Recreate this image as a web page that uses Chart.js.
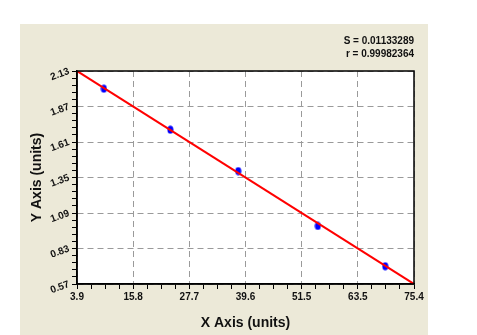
<!DOCTYPE html>
<html>
<head>
<meta charset="utf-8">
<script src="https://cdn.jsdelivr.net/npm/chart.js@4/dist/chart.umd.min.js"></script>
<style>
html,body{margin:0;padding:0;background:#fff;}
canvas{display:block;}
</style>
</head>
<body>
<canvas id="c" width="477" height="335"></canvas>
<script>
// ---- data ----
const pointX = [9.6, 23.7, 38.1, 55.0, 69.3];
const pointY = [2.00, 1.70, 1.397, 0.995, 0.70];
const fitX = [3.9, 75.4];
const fitY = [2.13, 0.57];
const xTickLabels = ['3.9', '15.8', '27.7', '39.6', '51.5', '63.5', '75.4'];
const yTickLabels = ['0.57', '0.83', '1.09', '1.35', '1.61', '1.87', '2.13'];
const statsText = ['S = 0.01133289', 'r = 0.99982364'];
const xTitle = 'X Axis (units)';
const yTitle = 'Y Axis (units)';

const X_MIN = parseFloat(xTickLabels[0]), X_MAX = parseFloat(xTickLabels[xTickLabels.length - 1]);
const Y_MIN = parseFloat(yTickLabels[0]), Y_MAX = parseFloat(yTickLabels[yTickLabels.length - 1]);
const X_MINOR = 4, Y_MINOR = 5;

// ellipse point style
const dot = document.createElement('canvas');
dot.width = 7; dot.height = 9;
(function () {
  const g = dot.getContext('2d');
  g.fillStyle = '#0000ff';
  g.beginPath();
  g.ellipse(3.5, 4.5, 3, 4, 0, 0, Math.PI * 2);
  g.fill();
})();

const bgPlugin = {
  id: 'bg',
  beforeDraw(chart) {
    const ctx = chart.ctx, a = chart.chartArea;
    ctx.save();
    ctx.fillStyle = '#ffffff';
    ctx.fillRect(0, 0, chart.width, chart.height);
    ctx.fillStyle = '#ECE9D8';
    ctx.fillRect(20, 24, 408, chart.height - 24);
    ctx.fillStyle = '#ffffff';
    ctx.fillRect(a.left, a.top, a.right - a.left, a.bottom - a.top);
    ctx.restore();
  },
  afterDraw(chart) {
    const ctx = chart.ctx, a = chart.chartArea;
    ctx.save();
    ctx.setLineDash([]);
    ctx.strokeStyle = '#000';
    ctx.lineWidth = 1.5;
    ctx.strokeRect(a.left, a.top, a.right - a.left, a.bottom - a.top);
    ctx.restore();
  }
};

function makeTicks(min, max, nMajor, nMinor) {
  const n = (nMajor - 1) * nMinor;
  const out = [];
  for (let i = 0; i <= n; i++) out.push({ value: min + (max - min) * i / n });
  return out;
}

const gridOpts = (minor) => ({
  color: (c) => (c.index % minor === 0 ? '#9a9a9a' : 'rgba(0,0,0,0)'),
  borderDash: [6, 4],
  tickBorderDash: [],
  tickColor: '#000',
  tickLength: 5,
  lineWidth: 1
});

new Chart(document.getElementById('c'), {
  type: 'scatter',
  data: {
    datasets: [
      {
        type: 'line',
        data: fitX.map((x, i) => ({ x, y: fitY[i] })),
        borderColor: '#ff0000',
        borderWidth: 2,
        pointRadius: 0,
        fill: false,
        order: 0
      },
      {
        data: pointX.map((x, i) => ({ x, y: pointY[i] })),
        pointStyle: dot,
        backgroundColor: '#0000ff',
        order: 1
      }
    ]
  },
  options: {
    responsive: false,
    animation: false,
    layout: { padding: { left: 20, right: 63, top: 30, bottom: 0 } },
    plugins: {
      legend: { display: false },
      tooltip: { enabled: false },
      title: {
        display: true,
        text: statsText,
        align: 'end',
        color: '#111',
        font: { family: 'Liberation Sans, Arial, sans-serif', size: 10, weight: 'bold', lineHeight: 1.25 },
        padding: { top: 5, bottom: 11 }
      }
    },
    scales: {
      x: {
        type: 'linear',
        min: X_MIN, max: X_MAX,
        afterBuildTicks: (s) => { s.ticks = makeTicks(X_MIN, X_MAX, xTickLabels.length, X_MINOR); },
        afterFit: (s) => { s.height = 51; },
        ticks: {
          autoSkip: false, maxRotation: 0, minRotation: 0,
          padding: 2,
          color: '#111',
          font: { family: 'Liberation Sans, Arial, sans-serif', size: 10, weight: 'bold' },
          callback: (v, i) => (i % X_MINOR === 0 ? xTickLabels[i / X_MINOR] : '')
        },
        grid: gridOpts(X_MINOR),
        border: { color: '#000', width: 1.5, dash: [6, 4] },
        title: {
          display: true, text: xTitle, color: '#111',
          font: { family: 'Liberation Sans, Arial, sans-serif', size: 14, weight: 'bold' },
          padding: { top: 0, bottom: 3 }
        }
      },
      y: {
        type: 'linear',
        min: Y_MIN, max: Y_MAX,
        afterBuildTicks: (s) => { s.ticks = makeTicks(Y_MIN, Y_MAX, yTickLabels.length, Y_MINOR); },
        afterFit: (s) => { s.width = 57; },
        ticks: {
          autoSkip: false, minRotation: 20, maxRotation: 20,
          padding: 3,
          color: '#111',
          font: { family: 'Liberation Sans, Arial, sans-serif', size: 10, weight: 'bold' },
          callback: (v, i) => (i % Y_MINOR === 0 ? yTickLabels[i / Y_MINOR] : '')
        },
        grid: gridOpts(Y_MINOR),
        border: { color: '#000', width: 1.5, dash: [6, 4] },
        title: {
          display: true, text: yTitle, color: '#111',
          font: { family: 'Liberation Sans, Arial, sans-serif', size: 14, weight: 'bold' },
          padding: { top: 9, bottom: 0 }
        }
      }
    }
  },
  plugins: [bgPlugin]
});
</script>
</body>
</html>
